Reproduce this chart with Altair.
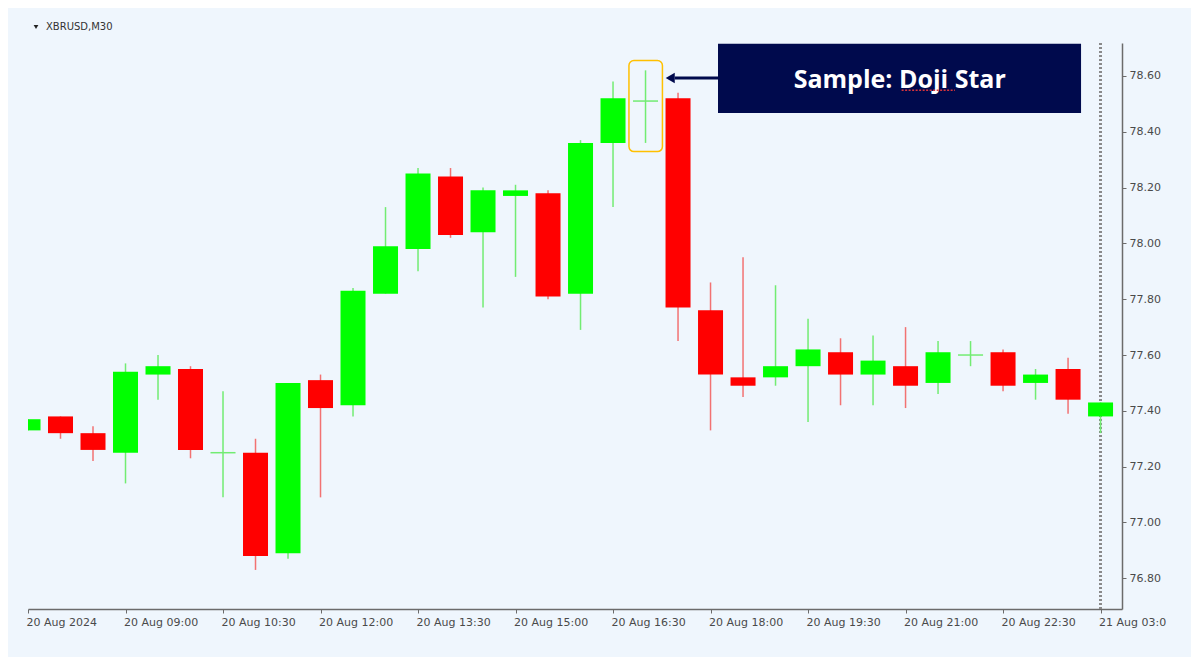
import json
import altair as alt
import pandas as pd

# ---- data ----
idx = list(range(34))
opens = [77.33, 77.38, 77.32, 77.25, 77.53, 77.55, 77.25, 77.25, 76.89, 77.51,
         77.42, 77.82, 77.98, 78.24, 78.04, 78.17, 78.18, 77.82, 78.36, 78.51,
         78.52, 77.76, 77.52, 77.52, 77.56, 77.61, 77.53, 77.56, 77.50, 77.60,
         77.61, 77.50, 77.55, 77.38]
highs = [77.37, 77.38, 77.345, 77.57, 77.60, 77.56, 77.47, 77.30, 77.50, 77.53,
         77.84, 78.13, 78.27, 78.27, 78.20, 78.21, 78.19, 78.37, 78.58, 78.62,
         78.54, 77.86, 77.95, 77.85, 77.73, 77.66, 77.67, 77.70, 77.65, 77.65,
         77.62, 77.55, 77.59, 77.43]
lows = [77.33, 77.30, 77.22, 77.14, 77.44, 77.23, 77.09, 76.83, 76.87, 77.09,
        77.38, 77.82, 77.90, 78.02, 77.77, 77.88, 77.80, 77.69, 78.13, 78.36,
        77.65, 77.33, 77.45, 77.49, 77.36, 77.42, 77.42, 77.41, 77.46, 77.56,
        77.47, 77.44, 77.39, 77.32]
closes = [77.37, 77.32, 77.26, 77.54, 77.56, 77.26, 77.25, 76.88, 77.50, 77.41,
          77.83, 77.99, 78.25, 78.03, 78.19, 78.19, 77.81, 78.36, 78.52, 78.51,
          77.77, 77.53, 77.49, 77.56, 77.62, 77.53, 77.58, 77.49, 77.61, 77.60,
          77.49, 77.53, 77.44, 77.43]

tick_idx = [0, 3, 6, 9, 12, 15, 18, 21, 24, 27, 30, 33]
tick_labels = ["20 Aug 2024", "20 Aug 09:00", "20 Aug 10:30", "20 Aug 12:00",
               "20 Aug 13:30", "20 Aug 15:00", "20 Aug 16:30", "20 Aug 18:00",
               "20 Aug 19:30", "20 Aug 21:00", "20 Aug 22:30", "21 Aug 03:0"]
price_ticks = [76.80, 77.00, 77.20, 77.40, 77.60, 77.80, 78.00, 78.20, 78.40, 78.60]

symbol_title = "XBRUSD,M30"
callout_text = "Sample: Doji Star"
doji_index = 19

df = pd.DataFrame({"i": idx, "open": opens, "high": highs, "low": lows, "close": closes})

BG = "#EFF6FD"
NAVY = "#000A4D"
label_map = {str(k): v for k, v in zip(tick_idx, tick_labels)}
label_expr = "%s[format(datum.value, 'd')]" % json.dumps(label_map)

xscale = alt.Scale(domain=[0, 33.66], nice=False, zero=False, padding=0)
yscale = alt.Scale(domain=[76.69, 78.718], nice=False, zero=False, padding=0)

x_axis = alt.Axis(
    values=tick_idx, labelExpr=label_expr, title=None, orient="bottom",
    labelAlign="left", labelOffset=-2, labelPadding=3, tickSize=4,
    labelOverlap=False, labelFlush=False, labelBound=False,
    domainColor="#6b6b6b", tickColor="#6b6b6b", domainWidth=1.5,
    labelColor="#4a4a4a", labelFont="DejaVu Sans", labelFontSize=11)
y_axis = alt.Axis(
    values=price_ticks, format=".2f", title=None, orient="right",
    tickSize=4, labelPadding=3, domainColor="#6b6b6b", tickColor="#6b6b6b",
    domainWidth=1.5, labelColor="#4a4a4a", labelFont="DejaVu Sans",
    labelFontSize=11)

base = alt.Chart(df)
up = "datum.close >= datum.open"

vline = base.mark_rule(color="#8a8a8a", strokeDash=[2, 2], strokeWidth=1.5).encode(
    x=alt.datum(33))

wicks = base.mark_rule(strokeWidth=1.5, clip=True).encode(
    x=alt.X("i:Q", scale=xscale, axis=x_axis),
    y=alt.Y("low:Q", scale=yscale, axis=y_axis),
    y2="high:Q",
    color=alt.condition(up, alt.value("#72EC72"), alt.value("#F27272")),
)

bodies = base.mark_bar(size=25, clip=True).encode(
    x=alt.X("i:Q", scale=xscale, axis=x_axis),
    y=alt.Y("open:Q", scale=yscale, axis=y_axis),
    y2="close:Q",
    color=alt.condition(up, alt.value("#00FF00"), alt.value("#FF0000")),
)

doji = base.transform_filter("datum.open == datum.close").transform_calculate(
    xl="datum.i - 0.385", xr="datum.i + 0.385"
).mark_rule(strokeWidth=1.5, color="#72EC72", clip=True).encode(
    x=alt.X("xl:Q", scale=xscale, axis=x_axis),
    x2="xr:Q",
    y=alt.Y("open:Q", scale=yscale, axis=y_axis),
)

# annotation: orange frame around the doji
frame = alt.Chart().mark_rect(filled=False, stroke="#FFC000", strokeWidth=1.5,
                              cornerRadius=5).encode(
    x=alt.datum(doji_index - 0.51), x2=alt.datum(doji_index + 0.52),
    y=alt.datum(78.655), y2=alt.datum(78.329))

callout = alt.Chart().mark_rect(color=NAVY).encode(
    x=alt.datum(21.23), x2=alt.datum(32.4),
    y=alt.datum(78.715), y2=alt.datum(78.467))

callout_label = alt.Chart().mark_text(
    text=callout_text, font="Open Sans", fontWeight="bold", fontSize=25,
    color="white", align="center", baseline="alphabetic").encode(
    x=alt.datum(26.82), y=alt.datum(78.556))

squiggle = alt.Chart().mark_rule(color="#D8343C", strokeWidth=1.5,
                                 strokeDash=[2, 1.5]).encode(
    x=alt.datum(26.88), x2=alt.datum(28.52), y=alt.datum(78.549))

arrow = alt.Chart().mark_rule(color=NAVY, strokeWidth=3).encode(
    x=alt.datum(19.9), x2=alt.datum(21.23), y=alt.datum(78.593))

arrow_head = alt.Chart().mark_point(shape="triangle-left", filled=True, size=110,
                                    color=NAVY, opacity=1).encode(
    x=alt.datum(19.76), y=alt.datum(78.593))

title_tri = alt.Chart().mark_point(shape="triangle-down", filled=True, size=22,
                                   color="#222222", opacity=1).encode(
    x=alt.value(8), y=alt.value(-16))
title_txt = alt.Chart().mark_text(text=symbol_title, font="DejaVu Sans", fontSize=10,
                                  color="#333333", align="left",
                                  baseline="middle").encode(
    x=alt.value(18), y=alt.value(-16))

chart = alt.layer(
    vline, wicks, bodies, doji, frame, callout, callout_label, squiggle, arrow,
    arrow_head, title_tri, title_txt
).properties(
    width=1094, height=566,
    background=BG,
    padding={"left": 20, "top": 35, "right": 69, "bottom": 48},
    autosize=alt.AutoSizeParams(type="none"),
).configure_view(stroke=None).configure_axis(grid=False).configure_scale(
    continuousPadding=0)

chart.save("out.html", embed_options={"renderer": "svg", "actions": False})
